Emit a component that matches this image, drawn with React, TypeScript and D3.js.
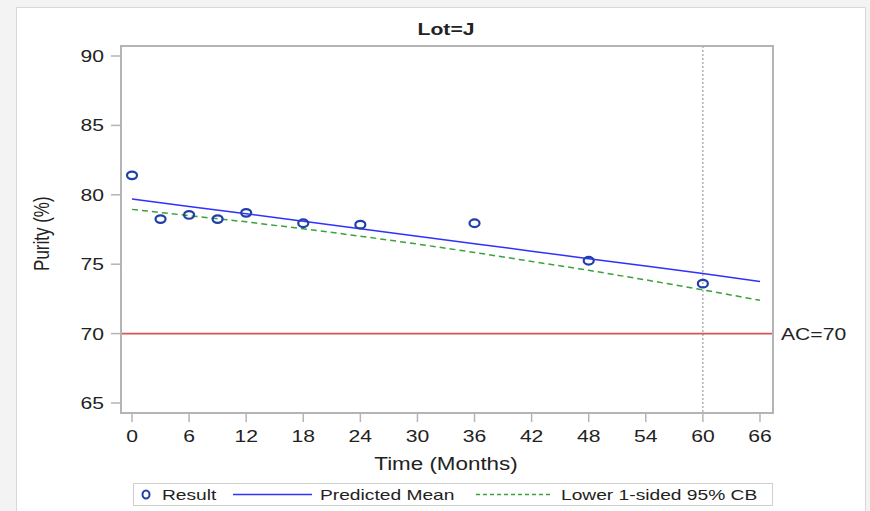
import React from 'react'
import * as d3 from 'd3'

// observed results
const resultTimes = [0, 3, 6, 9, 12, 18, 24, 36, 48, 60]
const resultValues = [81.4, 78.25, 78.55, 78.25, 78.7, 77.95, 77.85, 77.95, 75.25, 73.6]

// fitted lines, read at 6-month steps
const fitTimes = [0, 6, 12, 18, 24, 30, 36, 42, 48, 54, 60, 66]
const meanValues = [79.7, 79.16, 78.63, 78.09, 77.55, 77.01, 76.48, 75.94, 75.4, 74.87, 74.33, 73.75]
const lowerValues = [78.95, 78.5, 78.05, 77.55, 77.02, 76.45, 75.85, 75.2, 74.56, 73.87, 73.15, 72.4]

const xTicks = [0, 6, 12, 18, 24, 30, 36, 42, 48, 54, 60, 66]
const yTicks = [65, 70, 75, 80, 85, 90]
const acLimit = 70
const shelfLife = 60

const W = 870
const H = 511
const margin = { top: 46, right: 97, bottom: 98, left: 121 }
const font = "'Liberation Sans', Arial, sans-serif"
// the source picture is stretched sideways, so text is too
const SX = 1.28

interface TProps {
  x: number
  y: number
  size: number
  anchor?: 'start' | 'middle' | 'end'
  bold?: boolean
  dy?: string
  children: React.ReactNode
}

const T: React.FC<TProps> = ({ x, y, size, anchor = 'start', bold, dy, children }) => (
  <text transform={`translate(${x},${y}) scale(${SX},1)`} dy={dy} textAnchor={anchor}
    fontSize={size} fontWeight={bold ? 'bold' : 'normal'} fill="#222">{children}</text>
)

const App: React.FC = () => {
  const innerW = W - margin.left - margin.right
  const innerH = H - margin.top - margin.bottom

  const x = d3.scaleLinear().domain([-1.156, 67.37]).range([0, innerW])
  const y = d3.scaleLinear().domain([64.28, 90.72]).range([innerH, 0])

  const line = d3.line<[number, number]>()
    .x(d => x(d[0]))
    .y(d => y(d[1]))

  const meanPath = line(fitTimes.map((t, i) => [t, meanValues[i]]))
  const lowerPath = line(fitTimes.map((t, i) => [t, lowerValues[i]]))

  const frame = '#b4b4b4'

  return (
    <svg width={W} height={H} style={{ position: 'absolute', left: 0, top: 0, fontFamily: font }}>
      <rect x={0} y={0} width={W} height={H} fill="#f3f3f3" />
      <rect x={16.5} y={7.5} width={849} height={510} fill="#fff" stroke="#d8d8d8" />

      <T x={446} y={35} size={16.5} anchor="middle" bold>Lot=J</T>

      <g transform={`translate(${margin.left},${margin.top})`}>
        {/* shelf life marker */}
        <line x1={x(shelfLife)} x2={x(shelfLife)} y1={0} y2={innerH}
          stroke="#a0a0a0" strokeDasharray="2,2" strokeWidth={1.2} />
        {/* acceptance criterion */}
        <line x1={0} x2={innerW} y1={y(acLimit)} y2={y(acLimit)} stroke="#d9534f" strokeWidth={1.6} />

        <path d={lowerPath ?? ''} fill="none" stroke="#3aa23a" strokeWidth={1.5} strokeDasharray="6,4" />
        <path d={meanPath ?? ''} fill="none" stroke="#3030ff" strokeWidth={1.5} />

        {resultTimes.map((t, i) => (
          <ellipse key={i} cx={x(t)} cy={y(resultValues[i])} rx={5} ry={3.8}
            fill="none" stroke="#1e40a8" strokeWidth={2.2} />
        ))}

        <rect x={0} y={0} width={innerW} height={innerH} fill="none" stroke={frame} strokeWidth={2} />

        {yTicks.map(v => (
          <g key={v}>
            <line x1={-10} x2={0} y1={y(v)} y2={y(v)} stroke={frame} strokeWidth={1.5} />
            <T x={-17} y={y(v)} dy="0.36em" size={16.5} anchor="end">{v}</T>
          </g>
        ))}
        {xTicks.map(v => (
          <g key={v}>
            <line x1={x(v)} x2={x(v)} y1={innerH} y2={innerH + 9} stroke={frame} strokeWidth={1.5} />
            <T x={x(v)} y={innerH + 29} size={16.5} anchor="middle">{v}</T>
          </g>
        ))}

        <T x={innerW + 8} y={y(acLimit)} dy="0.36em" size={16.5}>AC=70</T>

        <T x={x(33)} y={innerH + 57} size={17.5} anchor="middle">Time (Months)</T>
        <text transform={`translate(${-72},${y(77.2)}) scale(1.35,1) rotate(-90)`} textAnchor="middle"
          fontSize={17} fill="#222">Purity (%)</text>
      </g>

      {/* legend */}
      <g transform="translate(133,483)">
        <rect x={0.5} y={0.5} width={639} height={22} fill="#fff" stroke="#cfcfcf" />
        <ellipse cx={13} cy={11.5} rx={3.5} ry={4} fill="none" stroke="#1e40a8" strokeWidth={2} />
        <T x={29} y={17} size={15}>Result</T>
        <line x1={100} x2={179} y1={11.5} y2={11.5} stroke="#3030ff" strokeWidth={1.5} />
        <T x={187} y={17} size={15}>Predicted Mean</T>
        <line x1={343} x2={420} y1={11.5} y2={11.5} stroke="#3aa23a" strokeWidth={1.5} strokeDasharray="4,3" />
        <T x={428} y={17} size={15}>Lower 1-sided 95% CB</T>
      </g>
    </svg>
  )
}

export default App
